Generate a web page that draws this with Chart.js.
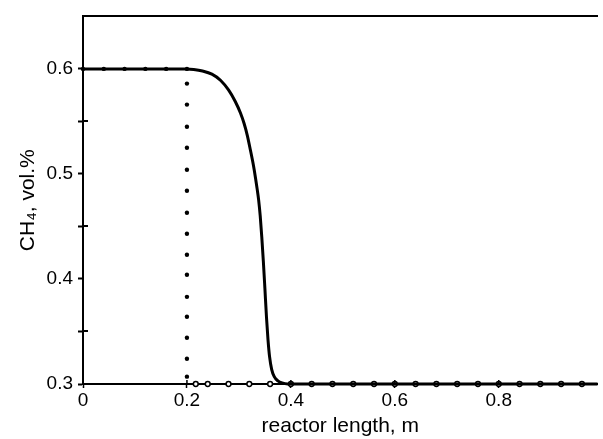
<!DOCTYPE html>
<html><head><meta charset="utf-8">
<script src="https://cdn.jsdelivr.net/npm/chart.js@4/dist/chart.umd.min.js"></script>
<style>html,body{margin:0;padding:0;background:#fff;overflow:hidden}</style>
</head><body>
<canvas id="c" width="603" height="439" style="display:block;width:603px;height:439px"></canvas>
<script>
// ---- data ----
const solidX = [0, 0.10, 0.20, 0.213, 0.230, 0.248, 0.265, 0.280, 0.293, 0.303, 0.310, 0.316, 0.322, 0.328, 0.332, 0.335, 0.338, 0.341, 0.344, 0.347, 0.350, 0.353, 0.356, 0.359, 0.363, 0.368, 0.375, 0.383, 0.394, 0.50, 0.60, 0.70, 0.80, 0.90, 0.99];
const solidY = [0.600, 0.600, 0.600, 0.5995, 0.598, 0.595, 0.589, 0.580, 0.569, 0.558, 0.548, 0.537, 0.523, 0.508, 0.496, 0.486, 0.475, 0.460, 0.440, 0.417, 0.391, 0.364, 0.342, 0.326, 0.314, 0.307, 0.303, 0.301, 0.300, 0.300, 0.300, 0.300, 0.300, 0.300, 0.300];

const dotTopX = [0, 0.04, 0.08, 0.12, 0.16, 0.20];
const dotTopY = [0.6, 0.6, 0.6, 0.6, 0.6, 0.6];
const dotDropX = [0.2, 0.2, 0.2, 0.2, 0.2, 0.2, 0.2, 0.2, 0.2, 0.2, 0.2, 0.2, 0.2, 0.2, 0.2];
const dotDropY = [0.586, 0.566, 0.545, 0.525, 0.504, 0.484, 0.463, 0.443, 0.423, 0.404, 0.383, 0.364, 0.344, 0.324, 0.307];
const dotBottomX = [0.217, 0.24, 0.28, 0.32, 0.36, 0.40, 0.44, 0.48, 0.52, 0.56, 0.60, 0.64, 0.68, 0.72, 0.76, 0.80, 0.84, 0.88, 0.92, 0.96];
const dotBottomY = [0.3, 0.3, 0.3, 0.3, 0.3, 0.3, 0.3, 0.3, 0.3, 0.3, 0.3, 0.3, 0.3, 0.3, 0.3, 0.3, 0.3, 0.3, 0.3, 0.3];

const xTicks = [0, 0.2, 0.4, 0.6, 0.8];
const yTicks = [0.3, 0.35, 0.4, 0.45, 0.5, 0.55, 0.6];
const yMajor = [0.3, 0.4, 0.5, 0.6];
const yMinor = [0.35, 0.45, 0.55];
const xTitle = 'reactor length, m';
const yTitle = 'CH\u2084, vol.%';

const pts = (xs, ys) => xs.map((x, i) => ({x: x, y: ys[i]}));
const FONT = '"Liberation Sans", Arial, sans-serif';

const innerTicks = {
  id: 'innerTicks',
  afterDraw(chart) {
    const ctx = chart.ctx, xs = chart.scales.x, ys = chart.scales.y, a = chart.chartArea;
    ctx.save();
    ctx.strokeStyle = '#000';
    ctx.lineWidth = 2;
    ctx.beginPath();
    yMinor.forEach(v => { const p = Math.round(ys.getPixelForValue(v)); ctx.moveTo(a.left, p); ctx.lineTo(a.left + 5, p); });
    ctx.stroke();
    ctx.lineWidth = 1.5;
    ctx.beginPath();
    xTicks.slice(1).forEach(v => { const p = xs.getPixelForValue(v); ctx.moveTo(p, a.bottom); ctx.lineTo(p, a.bottom - 4); });
    ctx.stroke();
    ctx.restore();
  }
};

new Chart(document.getElementById('c'), {
  type: 'scatter',
  data: {
    datasets: [
      { data: pts(solidX, solidY), showLine: true, borderColor: '#000', borderWidth: 3, pointRadius: 0, cubicInterpolationMode: 'monotone', clip: false },
      { data: pts(dotTopX, dotTopY), showLine: false, pointRadius: 2.2, backgroundColor: '#000', borderColor: '#000', borderWidth: 0, clip: false },
      { data: pts(dotDropX, dotDropY), showLine: false, pointRadius: 2.2, backgroundColor: '#000', borderColor: '#000', borderWidth: 0, clip: false },
      { data: pts(dotBottomX, dotBottomY), showLine: false, pointRadius: 2.4, backgroundColor: '#fff', borderColor: '#000', borderWidth: 1.5, clip: false }
    ]
  },
  options: {
    responsive: false,
    animation: false,
    devicePixelRatio: 1,
    layout: { padding: { top: 14, left: 0, right: 0, bottom: 0 } },
    plugins: { legend: { display: false }, tooltip: { enabled: false } },
    scales: {
      x: {
        type: 'linear', position: 'bottom', min: 0, max: 0.99,
        afterBuildTicks: s => { s.ticks = xTicks.map(v => ({value: v})); },
        afterFit: s => { s.height = 55; },
        ticks: { font: { family: FONT, size: 19 }, color: '#000', padding: 1, maxRotation: 0,
                 callback: v => (Math.abs(v) < 1e-9 ? '0' : String(Math.round(v * 10) / 10)) },
        grid: { display: true, drawOnChartArea: false, drawTicks: true, tickLength: 4, tickWidth: 1.5, tickColor: '#000', color: '#000' },
        border: { display: true, width: 2, color: '#000' },
        title: { display: true, text: xTitle, font: { family: FONT, size: 21 }, color: '#000', padding: { top: 0, bottom: 0 } }
      },
      x2: {
        type: 'linear', position: 'top', min: 0, max: 0.99,
        afterFit: s => { s.height = 0; },
        ticks: { display: false },
        grid: { display: false, drawTicks: false },
        border: { display: true, width: 2, color: '#000' }
      },
      y: {
        type: 'linear', position: 'left', min: 0.3, max: 0.65,
        afterBuildTicks: s => { s.ticks = yTicks.map(v => ({value: v})); },
        afterFit: s => { s.width = 83; },
        ticks: { font: { family: FONT, size: 19 }, color: '#000', padding: 5,
                 callback: v => (yMajor.some(m => Math.abs(m - v) < 1e-6) ? v.toFixed(1) : '') },
        grid: { display: true, drawOnChartArea: false, drawTicks: true, tickLength: 5, tickWidth: 2, tickColor: '#000', color: '#000' },
        border: { display: true, width: 2, color: '#000' },
        title: { display: true, text: yTitle, font: { family: FONT, size: 21 }, color: '#000', padding: { top: 16, bottom: 0 } }
      }
    }
  },
  plugins: [innerTicks]
});
</script>
</body></html>
